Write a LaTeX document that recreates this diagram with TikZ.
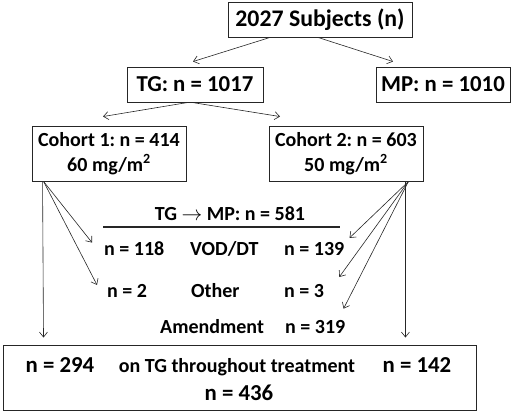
\documentclass[tikz,border=0pt]{standalone}
\usepackage{fontspec}
\setmainfont{Carlito}
\usetikzlibrary{arrows.meta,positioning,calc}
\frenchspacing

\begin{document}
\begin{tikzpicture}[x=1pt,y=-1pt,>={Straight Barb[length=5pt,width=8pt]},
  box/.style={draw=black!85,line width=0.9pt,inner sep=0pt,align=center},
  big/.style={font=\fontsize{22.8}{27}\selectfont\bfseries},
  small/.style={font=\fontsize{20}{24.4}\selectfont\bfseries},
  lbl/.style={small,inner sep=1pt,anchor=base west},
  num/.style={big,inner sep=1pt,anchor=base},
  flow/.style={->,line width=0.6pt,black!85}]
\useasboundingbox (0,0) rectangle (520,412);
% boxes
\node[box,big,font=\fontsize{23.8}{27}\selectfont\bfseries,minimum width=184pt,minimum height=35pt] (subj) at (320,19.5) {2027 Subjects (n)};
\node[box,big,minimum width=136pt,minimum height=35pt] (tg) at (195,84.5) {TG: n = 1017};
\node[box,big,minimum width=134pt,minimum height=35pt] (mp) at (443,84.5) {MP: n = 1010};
\node[box,small,minimum width=154pt,minimum height=55pt] (coh1) at (109,153.5) {Cohort 1: n = 414\\60 mg/m\textsuperscript{2}};
\node[box,small,minimum width=154pt,minimum height=55pt] (coh2) at (346,153.5) {Cohort 2: n = 603\\50 mg/m\textsuperscript{2}};
\node[box,minimum width=473pt,minimum height=65pt] (total) at (239.5,377.5) {};
% switch labels
\node[small,inner sep=1pt,anchor=base] (head) at (230,220) {TG $\rightarrow$ MP: n = 581};
\draw[line width=1.1pt,black!85] ($(head.base)+(-127,7)$) -- ($(head.base)+(110,7)$);
\node[lbl] (n118) at (103,255) {n = 118};
\node[lbl] (vod) at (189,255) {VOD/DT};
\node[lbl] (n139) at (283,255) {n = 139};
\node[lbl] (n2) at (106,297) {n = 2};
\node[lbl] (oth) at (190,297) {Other};
\node[lbl] (n3) at (283,297) {n = 3};
\node[lbl] (amd) at (159,333) {Amendment};
\node[lbl] (n319) at (284,333) {n = 319};
% bottom box texts
\node[num] (n294) at (60,372) {n = 294};
\node[small,inner sep=1pt,anchor=base] (ontg) at (237,372) {on TG throughout treatment};
\node[num] (n142) at (417,372) {n = 142};
\node[num] (n436) at (239,400) {n = 436};
% connectors
\coordinate (c1out) at ($(coh1.south west)+(12,0)$);
\coordinate (c2out) at ($(coh2.south east)+(-15,0)$);
\coordinate (c2down) at ($(coh2.south east)+(-18,0)$);
\draw[flow] ($(subj.south)+(-50,0)$) -- ($(tg.north)+(-2,-5)$);
\draw[flow] ($(subj.south)+(-2,0)$) -- ($(mp.north)+(-50,-5)$);
\draw[flow] ($(tg.south)+(-7,0)$) -- ($(coh1.north)+(-6,-9)$);
\draw[flow] ($(tg.south)+(-3,0)$) -- ($(coh2.north)+(-66,-9)$);
\draw[flow,shorten >=7pt] ($(c1out)+(-1,0)$) -- (c1out |- total.north);
\draw[flow] (c1out) -- ($(n118.west)+(-11,-5.6)$);
\draw[flow] (c1out) -- ($(n2.west)+(-9,-5.5)$);
\draw[flow] (c2out) -- ($(n139.east)+(4,-10.6)$);
\draw[flow] (c2out) -- ($(n3.east)+(14,-13.5)$);
\draw[flow] (c2out) -- ($(n319.north east)+(-3,-10)$);
\draw[flow,shorten >=7pt] (c2down) -- (c2down |- total.north);
\end{tikzpicture}
\end{document}
